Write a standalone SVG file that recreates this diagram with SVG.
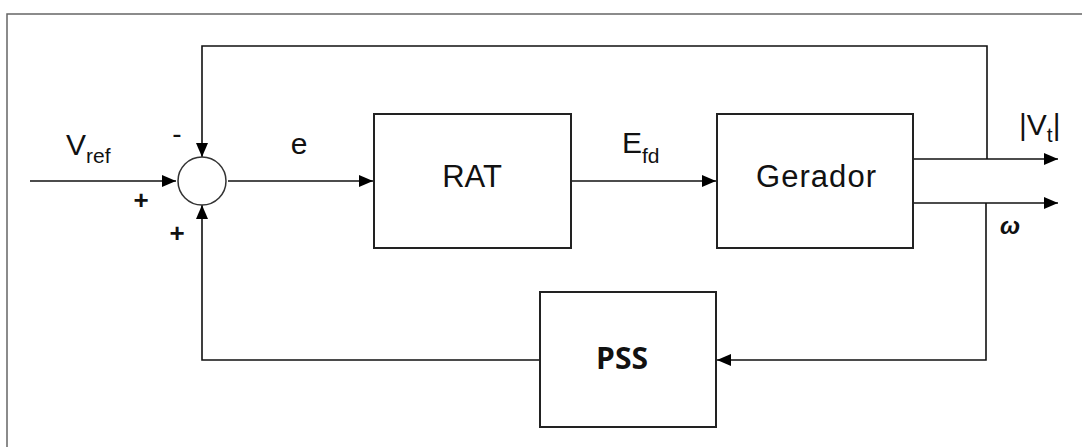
<svg xmlns="http://www.w3.org/2000/svg" width="1082" height="447" viewBox="0 0 1082 447">
<style>
.blk{fill:#fff;stroke:#222;stroke-width:2}
.ln{fill:none;stroke:#111;stroke-width:1.6}
.t{font-family:"Liberation Sans",Arial,sans-serif;fill:#111}
.sub{font-size:21px}
</style>
<defs>
<marker id="arr" markerWidth="14" markerHeight="12" refX="14" refY="6" orient="auto" markerUnits="userSpaceOnUse">
<path d="M0,0 L14,6 L0,12 Z" fill="#000"/>
</marker>
</defs>
<rect width="1082" height="447" fill="#fff"/>
<path d="M7,447 V14 H1082" fill="none" stroke="#666" stroke-width="1.5"/>
<g id="connectors">
<path class="ln" d="M30,181 H176" marker-end="url(#arr)"/>
<path class="ln" d="M228,181 H373" marker-end="url(#arr)"/>
<path class="ln" d="M571,181 H716" marker-end="url(#arr)"/>
<path class="ln" d="M913,159 H1058" marker-end="url(#arr)"/>
<path class="ln" d="M913,203 H1058" marker-end="url(#arr)"/>
<path class="ln" d="M987,159 V46 H202 V157" marker-end="url(#arr)"/>
<path class="ln" d="M986,203 V360 H717" marker-end="url(#arr)"/>
<path class="ln" d="M540,360 H202 V205" marker-end="url(#arr)"/>
</g>
<g id="sum">
<circle cx="202" cy="181" r="24" fill="#fff" stroke="#333" stroke-width="1.5"/>
<text class="t" x="177" y="143" font-size="28" text-anchor="middle">-</text>
<text class="t" x="141" y="209" font-size="26" font-weight="bold" text-anchor="middle">+</text>
<text class="t" x="177" y="242" font-size="26" font-weight="bold" text-anchor="middle">+</text>
</g>
<g id="vref"><text class="t" x="66" y="155" font-size="30">V<tspan class="sub" dy="8">ref</tspan></text></g>
<g id="e"><text class="t" x="299" y="154" font-size="30" text-anchor="middle">e</text></g>
<g id="rat">
<rect class="blk" x="374" y="114" width="197" height="134"/>
<text class="t" x="472" y="187" font-size="31" text-anchor="middle">RAT</text>
</g>
<g id="efd"><text class="t" x="622" y="153" font-size="30">E<tspan class="sub" dy="10">fd</tspan></text></g>
<g id="gerador">
<rect class="blk" x="717" y="114" width="196" height="134"/>
<text class="t" x="816" y="187" font-size="31" text-anchor="middle" textLength="120">Gerador</text>
</g>
<g id="vt"><text class="t" x="1019" y="135" font-size="30">|V<tspan class="sub" dy="7">t</tspan><tspan dy="-7">|</tspan></text></g>
<g id="omega"><text class="t" x="1000" y="234" font-size="24" font-weight="bold" font-style="italic" font-family="'DejaVu Serif',serif">ω</text></g>
<g id="pss">
<rect class="blk" x="540" y="292" width="176" height="135"/>
<text x="622" y="369" font-size="30" font-weight="bold" text-anchor="middle" font-family="'Open Sans','Noto Sans',sans-serif" fill="#111">PSS</text>
</g>
</svg>
